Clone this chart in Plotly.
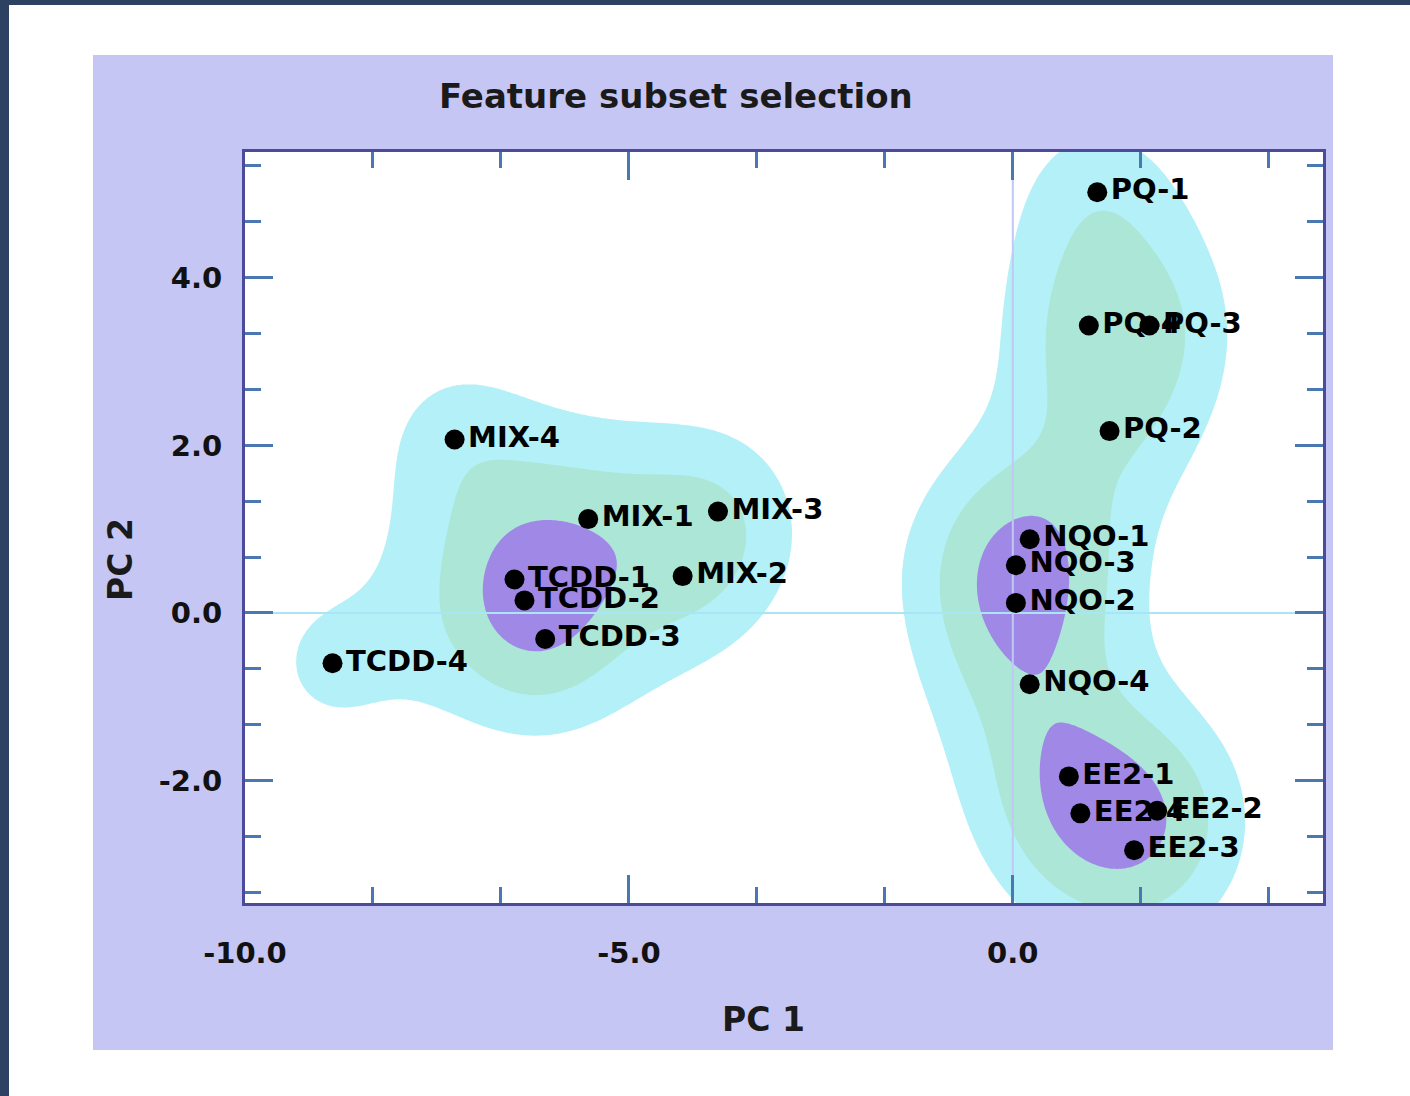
import numpy as np
import plotly.graph_objects as go

# ---------------- data ----------------
labels = ["PQ-1", "PQ-4", "PQ-3", "PQ-2",
          "NQO-1", "NQO-3", "NQO-2", "NQO-4",
          "EE2-1", "EE2-4", "EE2-2", "EE2-3",
          "MIX-4", "MIX-1", "MIX-3", "MIX-2",
          "TCDD-1", "TCDD-2", "TCDD-3", "TCDD-4"]
pc1 = [1.10, 0.99, 1.78, 1.26,
       0.22, 0.04, 0.04, 0.22,
       0.73, 0.88, 1.88, 1.58,
       -7.27, -5.53, -3.84, -4.30,
       -6.49, -6.36, -6.09, -8.86]
pc2 = [5.02, 3.43, 3.43, 2.17,
       0.88, 0.57, 0.12, -0.85,
       -1.95, -2.39, -2.36, -2.83,
       2.07, 1.12, 1.21, 0.44,
       0.40, 0.15, -0.31, -0.60]
x_tickvals = [-10, -5, 0]
x_ticktext = ["-10.0", "-5.0", "0.0"]
y_tickvals = [-2, 0, 2, 4]
y_ticktext = ["-2.0", "0.0", "2.0", "4.0"]
density_levels = [0.9, 1.45, 2.5]
density_bandwidths = [0.95, 0.85, 0.85]
density_colors = ["#b4f0f8", "#ace6d6", "#a088e6"]

# ---------------- density surface (Gaussian kernel) ----------------
X_RANGE = [-10, 4.04]
Y_RANGE = [-3.46, 5.5]
gx = np.linspace(X_RANGE[0], X_RANGE[1], 400)
gy = np.linspace(Y_RANGE[0], Y_RANGE[1], 300)
GX, GY = np.meshgrid(gx, gy)


def density(bw):
    z = np.zeros_like(GX)
    for px, py in zip(pc1, pc2):
        z += np.exp(-((GX - px) ** 2 + (GY - py) ** 2) / (2 * bw ** 2))
    return z


fig = go.Figure()
for lvl, bw, col in zip(density_levels, density_bandwidths, density_colors):
    # constraint contours shade the excluded side, so "<" shades z > lvl
    fig.add_trace(go.Contour(
        x=gx, y=gy, z=density(bw),
        contours=dict(type="constraint", operation="<", value=lvl),
        fillcolor=col, line=dict(width=0), showscale=False,
        hoverinfo="skip", showlegend=False))

# zero reference lines
fig.add_trace(go.Scatter(x=X_RANGE, y=[0, 0], mode="lines",
                         line=dict(color="#a8e6f6", width=2),
                         hoverinfo="skip", showlegend=False))
fig.add_trace(go.Scatter(x=[0, 0], y=Y_RANGE, mode="lines",
                         line=dict(color="#c0c8f4", width=2),
                         hoverinfo="skip", showlegend=False))

FONT = "DejaVu Sans"
fig.add_trace(go.Scatter(
    x=pc1, y=pc2, mode="markers+text", text=labels,
    textposition="middle right",
    marker=dict(color="black", size=20),
    textfont=dict(family=FONT, size=29, color="black", weight="bold"),
    showlegend=False))

# ---------------- layout ----------------
W, H = 1410, 1096
L, R, T, B = 245, 1323, 152, 903
pw, ph = R - L, B - T


def px_x(p):
    return (p - L) / pw


def px_y(p):
    return (B - p) / ph


lav = "#c6c6f4"
shapes = []
# lavender panel around plot
for x0, x1, y0, y1 in [
        (px_x(93), 0, px_y(1050), px_y(55)),
        (1, px_x(1333), px_y(1050), px_y(55)),
        (0, 1, px_y(1050), 0),
        (0, 1, 1, px_y(55))]:
    shapes.append(dict(type="rect", xref="paper", yref="paper",
                       x0=x0, x1=x1, y0=y0, y1=y1,
                       fillcolor=lav, line=dict(width=0), layer="below"))
# navy page border
navy = "#2d4263"
shapes.append(dict(type="rect", xref="paper", yref="paper",
                   x0=px_x(-5), x1=px_x(9), y0=px_y(1100), y1=px_y(-5),
                   fillcolor=navy, line=dict(width=0), layer="above"))
shapes.append(dict(type="rect", xref="paper", yref="paper",
                   x0=px_x(-5), x1=px_x(1415), y0=px_y(5), y1=px_y(-5),
                   fillcolor=navy, line=dict(width=0), layer="above"))

axis_common = dict(
    showgrid=False, zeroline=False,
    showline=True, linecolor="#4b4b9b", linewidth=3, mirror="allticks",
    ticks="inside", ticklen=28, tickwidth=3, tickcolor="#4a78b0",
    tickfont=dict(family=FONT, size=29, color="#111111", weight="bold"),
)

fig.update_layout(
    width=W, height=H,
    margin=dict(l=L, r=W - R, t=T, b=H - B),
    paper_bgcolor="white", plot_bgcolor="white",
    shapes=shapes,
    xaxis=dict(range=X_RANGE, tickvals=x_tickvals, ticktext=x_ticktext,
               ticklabelstandoff=22,
               minor=dict(ticks="inside", ticklen=16, tickwidth=3,
                          tickcolor="#4a78b0", dtick=5 / 3, tick0=-10),
               **axis_common),
    yaxis=dict(range=Y_RANGE, tickvals=y_tickvals, ticktext=y_ticktext,
               ticklabelstandoff=14,
               minor=dict(ticks="inside", ticklen=16, tickwidth=3,
                          tickcolor="#4a78b0", dtick=2 / 3, tick0=0),
               **axis_common),
    annotations=[
        dict(text="Feature subset selection", xref="paper", yref="paper",
             x=px_x(676), y=px_y(96), showarrow=False,
             xanchor="center", yanchor="middle",
             font=dict(family=FONT, size=34, color="#1a1a1a", weight="bold")),
        dict(text="PC 1", xref="paper", yref="paper",
             x=px_x(763), y=px_y(1020), showarrow=False,
             xanchor="center", yanchor="middle",
             font=dict(family=FONT, size=33, color="#1a1a1a", weight="bold")),
        dict(text="PC 2", xref="paper", yref="paper",
             x=px_x(120), y=px_y(560), showarrow=False, textangle=-90,
             xanchor="center", yanchor="middle",
             font=dict(family=FONT, size=33, color="#1a1a1a", weight="bold")),
    ],
)

fig.write_html("out.html",
               config={"displayModeBar": False},
               post_script="document.body.style.margin='0';"
                           "document.body.style.overflow='hidden';")
